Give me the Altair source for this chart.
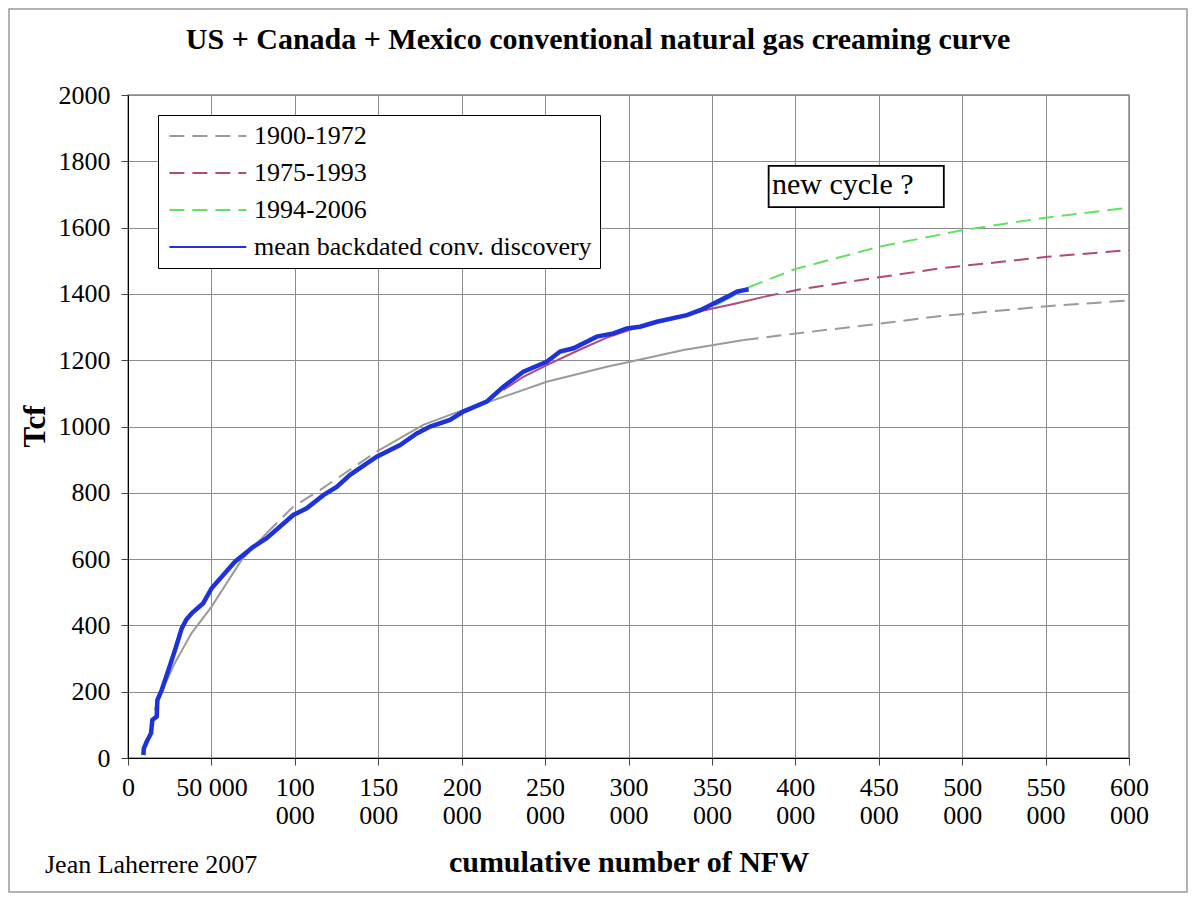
import altair as alt
import pandas as pd

# ---------------- data ----------------
SERIES = ["1900-1972", "1975-1993", "1994-2006", "mean backdated conv. discovery"]
COLORS = ["#9a9a9a", "#b04a7c", "#62e262", "#1e32dc"]

gray_x = [16000, 22000, 28000, 38000, 50000, 68000, 83000, 99000, 115000, 149000,
          177000, 201000, 215000, 251000, 287000, 305000, 333000, 369000, 403000,
          450000, 487000, 551000, 600000]
gray_y = [145, 220, 286, 376, 456, 597, 678, 758, 808, 924,
          1005, 1050, 1072, 1135, 1180, 1200, 1231, 1261, 1282,
          1310, 1333, 1363, 1380]

red_x = [225000, 237000, 251000, 270000, 287000, 300000, 320000, 345000, 365000,
         381000, 403000, 450000, 487000, 551000, 600000]
red_y = [1110, 1150, 1185, 1230, 1268, 1290, 1318, 1350, 1372,
         1391, 1414, 1450, 1477, 1512, 1532]

green_x = [352000, 372000, 400000, 450000, 500000, 550000, 600000]
green_y = [1365, 1420, 1475, 1542, 1592, 1630, 1660]

blue_x = [9200, 9500, 11200, 13800, 14600, 17200, 17600, 20200, 24200, 28200,
          32200, 35000, 38500, 45100, 50100, 57100, 64100, 75100, 83100, 99100,
          107100, 117100, 125100, 133100, 149100, 163100, 173100, 181100, 193000,
          201000, 215000, 225000, 237000, 251000, 259000, 267000, 281000, 291000,
          299000, 307000, 317000, 335000, 343000, 349000, 359000, 365000, 372000]
blue_y = [9, 29, 49, 75, 115, 125, 175, 205, 265, 326,
          391, 418, 438, 467, 512, 552, 592, 637, 663, 733,
          753, 793, 818, 854, 909, 944, 979, 1000, 1020,
          1045, 1075, 1120, 1165, 1195, 1226, 1236, 1271, 1281,
          1296, 1301, 1316, 1336, 1351, 1366, 1391, 1407, 1414]

x_tick_values = [0, 50000, 100000, 150000, 200000, 250000, 300000,
                 350000, 400000, 450000, 500000, 550000, 600000]
x_tick_labels = [["0"], ["50 000"], ["100", "000"], ["150", "000"], ["200", "000"],
                 ["250", "000"], ["300", "000"], ["350", "000"], ["400", "000"],
                 ["450", "000"], ["500", "000"], ["550", "000"], ["600", "000"]]
y_tick_values = list(range(0, 2001, 200))

note_text = ["new cycle ?"]
note_box_x = [384000, 489000]
note_box_y = [1662, 1786]
note_text_pos = [386000, 1727]

TITLE = "US + Canada + Mexico conventional natural gas creaming curve"
X_TITLE = "cumulative number of NFW"
Y_TITLE = "Tcf"
CREDIT = "Jean Laherrere 2007"

# where the extrapolated (dashed) parts of the model curves lie
DASHED = {
    SERIES[0]: [(84000, 160000), (370000, 700000)],
    SERIES[1]: [(378000, 700000)],
    SERIES[2]: [(374000, 700000)],
}

FONT = "Liberation Serif"


def build_runs(name, xs, ys, dashed_ranges):
    rows = []
    run = 0
    prev = None
    for i in range(len(xs) - 1):
        mid = (xs[i] + xs[i + 1]) / 2
        style = "dashed" if any(a <= mid < b for a, b in dashed_ranges) else "solid"
        if style != prev:
            run += 1
            rows.append({"series": name, "x": xs[i], "y": ys[i],
                         "run": f"{name}-{run}", "style": style})
        rows.append({"series": name, "x": xs[i + 1], "y": ys[i + 1],
                     "run": f"{name}-{run}", "style": style})
        prev = style
    return rows


model_rows = (build_runs(SERIES[0], gray_x, gray_y, DASHED[SERIES[0]])
              + build_runs(SERIES[1], red_x, red_y, DASHED[SERIES[1]])
              + build_runs(SERIES[2], green_x, green_y, DASHED[SERIES[2]]))
model_df = pd.DataFrame(model_rows)
dashed_df = model_df[model_df["style"] == "dashed"]
solid_df = model_df[model_df["style"] == "solid"]
blue_df = pd.DataFrame({"series": SERIES[3], "x": blue_x, "y": blue_y})

label_expr = (f"indexof({x_tick_values}, datum.value) >= 0 ? "
              f"{x_tick_labels}[indexof({x_tick_values}, datum.value)] : ''")

x_scale = alt.Scale(domain=[0, 600000], nice=False, zero=False)
y_scale = alt.Scale(domain=[0, 2000], nice=False)

x_axis = alt.Axis(values=x_tick_values, labelExpr=label_expr, title=X_TITLE,
                  labelFont=FONT, labelFontSize=26, labelColor="black",
                  labelLineHeight=28, labelPadding=9, labelBaseline="top",
                  labelFlush=False, labelOverlap=False,
                  tickSize=7, tickColor="#444", domainColor="black",
                  gridColor="#8c8c8c", gridWidth=1,
                  titleFont=FONT, titleFontSize=30, titleFontWeight="bold",
                  titleColor="black", titleY=104, titleBaseline="middle")
y_axis = alt.Axis(values=y_tick_values, title=Y_TITLE, format="d", labelFont=FONT,
                  labelFontSize=26, labelColor="black", labelPadding=11,
                  labelFlush=False,
                  tickSize=7, tickColor="#444", domainColor="black",
                  gridColor="#8c8c8c", gridWidth=1,
                  titleFont=FONT, titleFontSize=31, titleFontWeight="bold",
                  titleColor="black", titleX=-93, titleY=331,
                  titleBaseline="middle", titleAngle=270)

legend = alt.Legend(title=None, orient="none", legendX=30, legendY=20,
                    symbolType="M-1,0H7", symbolSize=370, labelOffset=62,
                    labelFont=FONT, labelFontSize=26, labelColor="black",
                    labelLimit=0, padding=8, rowPadding=11,
                    strokeColor="black", fillColor="white")

dash_layer = alt.Chart(dashed_df).mark_line(clip=True).encode(
    x=alt.X("x:Q", scale=x_scale, axis=x_axis),
    y=alt.Y("y:Q", scale=y_scale, axis=y_axis),
    color=alt.Color("series:N", scale=alt.Scale(domain=SERIES, range=COLORS),
                    legend=legend, sort=SERIES),
    strokeDash=alt.StrokeDash("series:N", scale=alt.Scale(
        domain=SERIES, range=[[15, 8], [15, 8], [15, 8], [1, 0]]),
        legend=legend, sort=SERIES),
    strokeWidth=alt.StrokeWidth("series:N", scale=alt.Scale(
        domain=SERIES, range=[2, 2, 2, 4.5]), legend=legend, sort=SERIES),
    detail="run:N",
)

solid_layer = alt.Chart(solid_df).mark_line(clip=True, strokeWidth=2).encode(
    x="x:Q", y="y:Q",
    stroke=alt.Stroke("series:N", scale=alt.Scale(domain=SERIES, range=COLORS),
                      legend=None),
    detail="run:N",
)

blue_layer = alt.Chart(blue_df).mark_line(clip=True, strokeWidth=4.5,
                                          color=COLORS[3]).encode(
    x="x:Q", y="y:Q")

note_df = pd.DataFrame({"x": [note_box_x[0]], "x2": [note_box_x[1]],
                        "y": [note_box_y[0]], "y2": [note_box_y[1]],
                        "tx": [note_text_pos[0]], "ty": [note_text_pos[1]],
                        "t": note_text})
note_box = alt.Chart(note_df).mark_rect(fill="white", stroke="black",
                                        strokeWidth=1.8).encode(
    x="x:Q", x2="x2", y="y:Q", y2="y2")
note_label = alt.Chart(note_df).mark_text(font=FONT, fontSize=30, align="left",
                                          baseline="middle", color="black").encode(
    x="tx:Q", y="ty:Q", text="t:N")

one = pd.DataFrame({"a": [0]})
title_mark = alt.Chart(one).mark_text(font=FONT, fontSize=30, fontWeight="bold",
                                      align="center", baseline="middle",
                                      color="black").encode(
    x=alt.value(470), y=alt.value(-55), text=alt.value(TITLE))
credit = alt.Chart(one).mark_text(font=FONT, fontSize=26, align="left",
                                  baseline="middle", color="black").encode(
    x=alt.value(-83), y=alt.value(770), text=alt.value(CREDIT))
frame = alt.Chart(one).mark_rect(fill=None, stroke="#9a9a9a", strokeWidth=1.5).encode(
    x=alt.value(-119), x2=alt.value(1059), y=alt.value(-86), y2=alt.value(797))

chart = alt.layer(frame, note_box, note_label, dash_layer, solid_layer,
                  blue_layer, title_mark, credit).properties(
    width=1001, height=663,
    autosize=alt.AutoSizeParams(type="none"),
    padding={"left": 120, "top": 87, "right": 59, "bottom": 135},
).configure(
    background="white", font=FONT
).configure_view(
    stroke="#8c8c8c", strokeWidth=1.5
).configure_axis(
    labelFont=FONT, titleFont=FONT
).configure_legend(
    labelFont=FONT
).configure_text(font=FONT)

chart.save("out.html", embed_options={"renderer": "svg", "actions": False})
